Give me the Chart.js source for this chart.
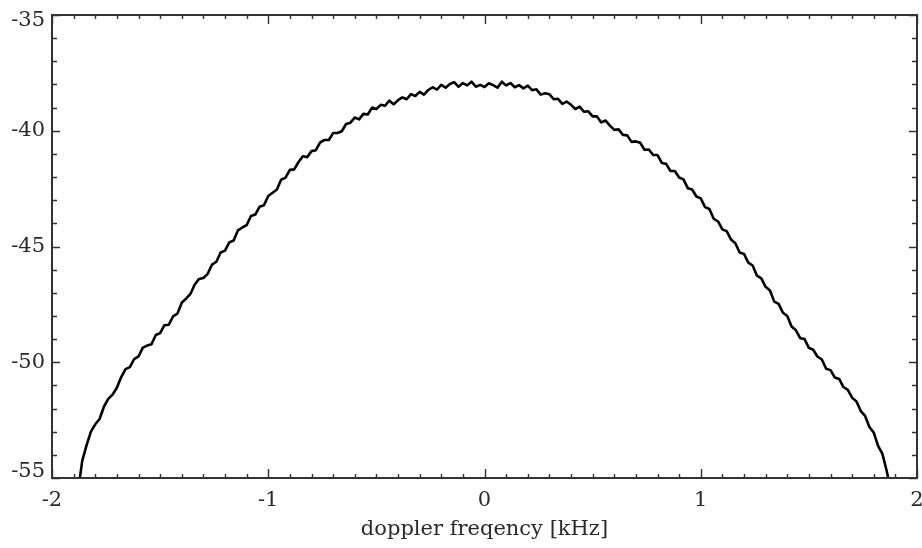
<!DOCTYPE html>
<html>
<head>
<meta charset="utf-8">
<script src="https://cdn.jsdelivr.net/npm/chart.js@4.4.1/dist/chart.umd.min.js"></script>
<style>
  html, body { margin: 0; padding: 0; background: #fff; }
  #wrap { width: 922px; height: 548px; }
</style>
</head>
<body>
<div id="wrap"><canvas id="c" width="922" height="548"></canvas></div>
<script>
// Doppler frequency (kHz) and power (dB)
const freqKHz = [
  -1.88,-1.86,-1.84,-1.82,-1.80,-1.78,-1.76,-1.74,-1.72,-1.70,
  -1.68,-1.66,-1.64,-1.62,-1.60,-1.58,-1.56,-1.54,-1.52,-1.50,
  -1.48,-1.46,-1.44,-1.42,-1.40,-1.38,-1.36,-1.34,-1.32,-1.30,
  -1.28,-1.26,-1.24,-1.22,-1.20,-1.18,-1.16,-1.14,-1.12,-1.10,
  -1.08,-1.06,-1.04,-1.02,-1.00,-0.98,-0.96,-0.94,-0.92,-0.90,
  -0.88,-0.86,-0.84,-0.82,-0.80,-0.78,-0.76,-0.74,-0.72,-0.70,
  -0.68,-0.66,-0.64,-0.62,-0.60,-0.58,-0.56,-0.54,-0.52,-0.50,
  -0.48,-0.46,-0.44,-0.42,-0.40,-0.38,-0.36,-0.34,-0.32,-0.30,
  -0.28,-0.26,-0.24,-0.22,-0.20,-0.18,-0.16,-0.14,-0.12,-0.10,
  -0.08,-0.06,-0.04,-0.02,0.00,0.02,0.04,0.06,0.08,0.10,
  0.12,0.14,0.16,0.18,0.20,0.22,0.24,0.26,0.28,0.30,
  0.32,0.34,0.36,0.38,0.40,0.42,0.44,0.46,0.48,0.50,
  0.52,0.54,0.56,0.58,0.60,0.62,0.64,0.66,0.68,0.70,
  0.72,0.74,0.76,0.78,0.80,0.82,0.84,0.86,0.88,0.90,
  0.92,0.94,0.96,0.98,1.00,1.02,1.04,1.06,1.08,1.10,
  1.12,1.14,1.16,1.18,1.20,1.22,1.24,1.26,1.28,1.30,
  1.32,1.34,1.36,1.38,1.40,1.42,1.44,1.46,1.48,1.50,
  1.52,1.54,1.56,1.58,1.60,1.62,1.64,1.66,1.68,1.70,
  1.72,1.74,1.76,1.78,1.80,1.82,1.84,1.86,1.88
];
const powerDB = [
  -55.6,-54.25,-53.58,-53.0,-52.68,-52.45,-51.92,-51.58,-51.4,-51.1,
  -50.64,-50.3,-50.21,-49.86,-49.75,-49.37,-49.28,-49.22,-48.82,-48.74,
  -48.4,-48.38,-48.02,-47.9,-47.43,-47.25,-47.05,-46.64,-46.4,-46.36,
  -46.18,-45.78,-45.66,-45.26,-45.18,-44.82,-44.74,-44.3,-44.18,-44.08,
  -43.68,-43.62,-43.28,-43.22,-42.82,-42.68,-42.54,-42.11,-42.03,-41.69,
  -41.67,-41.35,-41.1,-41.14,-40.88,-40.84,-40.5,-40.4,-40.4,-40.1,
  -40.1,-40.02,-39.71,-39.65,-39.43,-39.51,-39.27,-39.3,-39.0,-39.06,
  -38.88,-38.92,-38.7,-38.86,-38.68,-38.56,-38.64,-38.42,-38.5,-38.32,
  -38.44,-38.24,-38.12,-38.22,-38.02,-38.14,-37.98,-37.9,-38.1,-37.94,
  -38.04,-37.88,-38.1,-38.02,-38.11,-37.95,-38.03,-38.14,-37.88,-38.04,
  -37.94,-38.12,-38.03,-38.17,-38.05,-38.25,-38.21,-38.44,-38.38,-38.42,
  -38.64,-38.62,-38.84,-38.74,-38.88,-39.06,-38.96,-39.18,-39.16,-39.38,
  -39.38,-39.64,-39.56,-39.78,-39.96,-39.94,-40.18,-40.2,-40.48,-40.46,
  -40.52,-40.82,-40.81,-41.05,-41.05,-41.39,-41.43,-41.74,-41.74,-42.02,
  -42.1,-42.48,-42.54,-42.84,-42.92,-43.3,-43.38,-43.8,-43.92,-44.26,
  -44.34,-44.7,-44.86,-45.26,-45.32,-45.7,-45.82,-46.26,-46.38,-46.74,
  -46.9,-47.38,-47.48,-47.86,-48.0,-48.46,-48.62,-48.96,-49.0,-49.38,
  -49.46,-49.76,-49.88,-50.28,-50.34,-50.66,-50.72,-51.07,-51.19,-51.53,
  -51.69,-52.11,-52.32,-52.8,-53.04,-53.61,-53.96,-54.7,-55.6
];
const xTickValues = [-2, -1, 0, 1, 2];
const yTickValues = [-55, -50, -45, -40, -35];
const xAxisTitle = 'doppler freqency [kHz]';

const FONT = "'DejaVu Serif', 'Liberation Serif', serif";
const AXIS_COLOR = '#333333';
const TEXT_COLOR = '#2a2a2a';

const framePlugin = {
  id: 'frameTicks',
  afterDatasetsDraw(chart) {
    const { ctx, chartArea: a, scales } = chart;
    const xs = scales.x, ys = scales.y;
    ctx.save();
    ctx.strokeStyle = AXIS_COLOR;
    ctx.lineCap = 'butt';
    ctx.lineWidth = 1.4;
    const xMin = xTickValues[0], xMax = xTickValues[xTickValues.length - 1];
    for (let i = 0; i <= (xMax - xMin) * 10; i++) {
      const v = xMin + i / 10;
      const px = Math.round(xs.getPixelForValue(v)) + 0.5;
      const major = i % 10 === 0;
      const len = major ? 9 : 4;
      ctx.beginPath();
      ctx.moveTo(px, a.bottom); ctx.lineTo(px, a.bottom - len);
      ctx.moveTo(px, a.top); ctx.lineTo(px, a.top + len);
      ctx.stroke();
    }
    const yMin = yTickValues[0], yMax = yTickValues[yTickValues.length - 1];
    for (let i = 0; i <= (yMax - yMin); i++) {
      const v = yMin + i;
      const py = Math.round(ys.getPixelForValue(v)) + 0.5;
      const major = i % 5 === 0;
      const len = major ? 8 : 5;
      ctx.beginPath();
      ctx.moveTo(a.left, py); ctx.lineTo(a.left + len, py);
      ctx.moveTo(a.right, py); ctx.lineTo(a.right - len, py);
      ctx.stroke();
    }
    ctx.lineWidth = 2;
    ctx.strokeRect(a.left, a.top, a.right - a.left, a.bottom - a.top);
    ctx.restore();
  }
};

new Chart(document.getElementById('c'), {
  type: 'line',
  data: {
    datasets: [{
      data: freqKHz.map((f, i) => ({ x: f, y: powerDB[i] })),
      borderColor: '#000000',
      borderWidth: 2.6,
      borderJoinStyle: 'round',
      pointRadius: 0,
      tension: 0,
      fill: false,
      clip: 0
    }]
  },
  options: {
    responsive: false,
    animation: false,
    devicePixelRatio: 1,
    layout: { padding: { top: 15, right: 5, left: 0, bottom: 0 } },
    plugins: { legend: { display: false }, tooltip: { enabled: false } },
    scales: {
      x: {
        type: 'linear',
        min: -2, max: 2,
        afterFit(s) { s.height = 70; s.paddingLeft = 0; s.paddingRight = 0; },
        afterBuildTicks(s) { s.ticks = xTickValues.map(v => ({ value: v })); },
        grid: { display: false, drawTicks: false },
        border: { display: false },
        ticks: {
          color: TEXT_COLOR,
          font: { family: FONT, size: 21 },
          padding: 10,
          maxRotation: 0,
          autoSkip: false,
          callback: v => String(v)
        },
        title: {
          display: true,
          text: xAxisTitle,
          color: TEXT_COLOR,
          font: { family: FONT, size: 21 },
          padding: { top: 0, bottom: 6 }
        }
      },
      y: {
        type: 'linear',
        min: -55, max: -35,
        afterFit(s) { s.width = 52; s.paddingTop = 0; s.paddingBottom = 0; },
        afterBuildTicks(s) { s.ticks = yTickValues.map(v => ({ value: v })); },
        grid: { display: false, drawTicks: false },
        border: { display: false },
        ticks: {
          color: TEXT_COLOR,
          font: { family: FONT, size: 21, lineHeight: '12px' },
          padding: 7,
          autoSkip: false,
          // end labels sit just inside the frame, as in the reference
          callback: (v) => {
            const s = String(v);
            if (v === yTickValues[yTickValues.length - 1]) return ['', s];
            if (v === yTickValues[0]) return [s, ''];
            return s;
          }
        }
      }
    }
  },
  plugins: [framePlugin]
});
</script>
</body>
</html>
